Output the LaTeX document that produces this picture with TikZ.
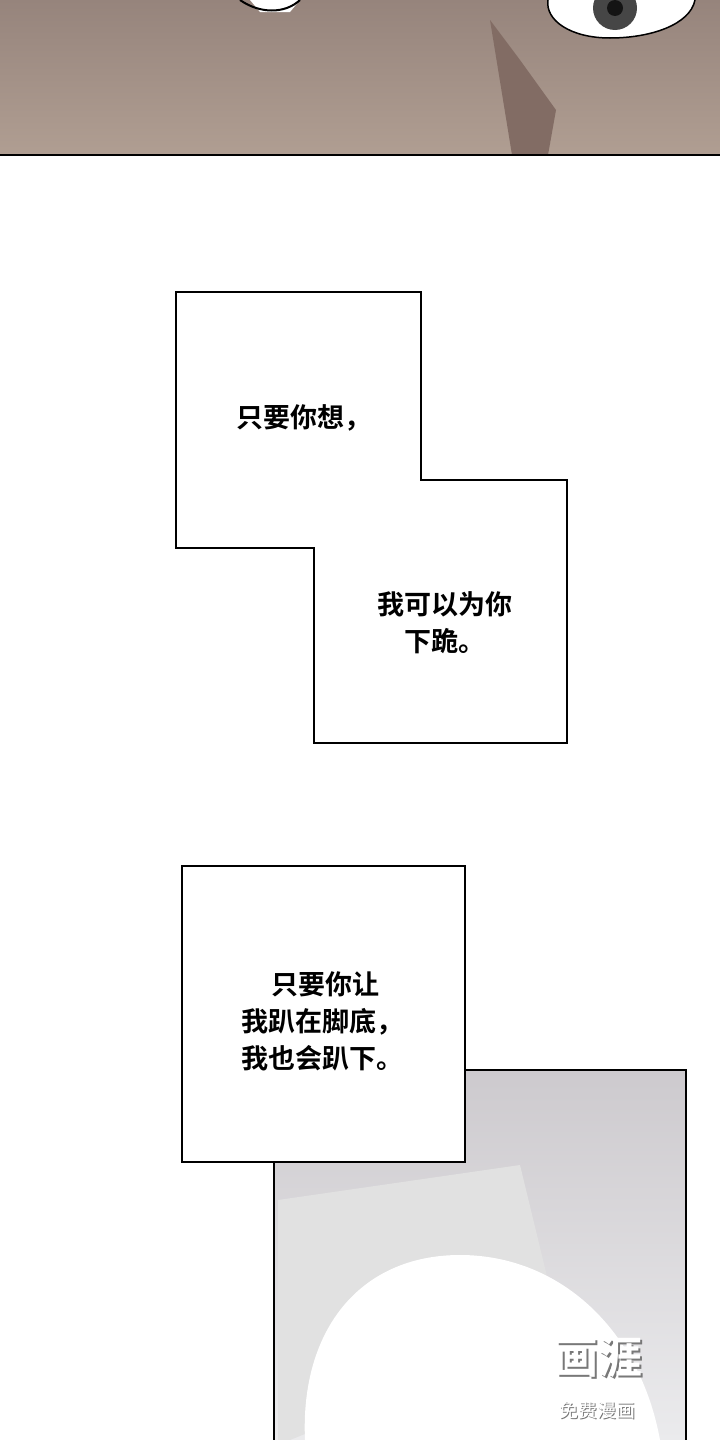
\documentclass[tikz,border=0pt]{standalone}
\usepackage{fontspec}
\newfontfamily\cjk{Noto Sans CJK SC}
\newfontfamily\cjkb{Noto Sans CJK SC Bold}
\definecolor{skinA}{RGB}{150,132,124}
\definecolor{skinB}{RGB}{176,158,146}
\definecolor{shadow}{RGB}{130,108,100}
\definecolor{iris}{RGB}{70,70,70}
\definecolor{pupil}{RGB}{20,20,20}
\definecolor{grayA}{RGB}{205,202,206}
\definecolor{grayB}{RGB}{235,235,237}
\definecolor{grayC}{RGB}{225,225,225}
\definecolor{wmark}{RGB}{120,120,120}
\begin{document}
\begin{tikzpicture}[x=1pt,y=-1pt,
  txt/.style={font=\cjkb\fontsize{27}{37}\selectfont, align=center, inner sep=0},
  frame/.style={draw=black, line width=1.8pt}]
\useasboundingbox (0,0) rectangle (720,1440);
% top panel
\shade[top color=skinA, bottom color=skinB] (0,0) rectangle (720,155);
\fill[shadow] (490,20) -- (520,60) -- (556,110) -- (548,155) -- (512,155) -- cycle;
\fill[white] (250,0) -- (300,0) -- (290,12) -- (260,12) -- cycle;
\draw[line width=2pt] (240,0) .. controls (260,14) and (285,14) .. (300,0);
\fill[white] (548,0) .. controls (545,20) and (570,38) .. (610,38) .. controls (650,38) and (690,25) .. (695,0) -- cycle;
\fill[iris] (615,8) circle (22);
\fill[pupil] (615,8) circle (8);
\draw[line width=1.5pt] (548,0) .. controls (545,20) and (570,38) .. (610,38) .. controls (650,38) and (690,25) .. (695,0);
\draw[line width=1.6pt] (0,155) -- (720,155);
% box 1
\draw[frame] (176,292) -- (421,292) -- (421,480) -- (567,480) -- (567,743) -- (314,743) -- (314,548) -- (176,548) -- cycle;
\node[txt] (t1) at (304,418) {只要你想，};
\node[txt] (t2) at (445,623) {我可以为你\\下跪。};
% bottom panel
\shade[top color=grayA, bottom color=grayB] (274,1070) rectangle (686,1440);
\fill[grayC] (278,1200) -- (520,1165) -- (560,1330) -- (290,1440) -- (278,1440) -- cycle;
\fill[white] (305,1440) .. controls (300,1330) and (360,1255) .. (460,1255) .. controls (560,1255) and (640,1330) .. (660,1440) -- cycle;
\draw[frame] (274,1440) -- (274,1070) -- (686,1070) -- (686,1440);
% box 2
\draw[frame, fill=white] (182,866) rectangle (465,1162);
\node[txt] (t3) at (322,1021) {\ 只要你让\\我趴在脚底，\\我也会趴下。};
% watermark
\node[font=\cjkb\fontsize{44}{44}\selectfont, text=wmark, inner sep=0] (w0) at (600,1359) {画涯};
\node[font=\cjkb\fontsize{44}{44}\selectfont, text=white, inner sep=0] (w1) at (598,1357) {画涯};
\node[font=\cjk\fontsize{19}{19}\selectfont, text=wmark, inner sep=0] (w3) at (598,1411) {免费漫画};
\node[font=\cjk\fontsize{19}{19}\selectfont, text=white, inner sep=0] (w2) at (597,1410) {免费漫画};
\end{tikzpicture}
\end{document}
